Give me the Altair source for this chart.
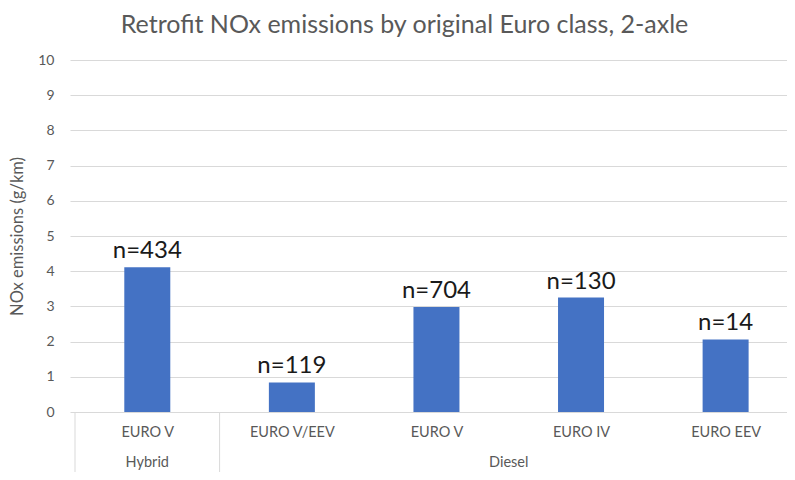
import json
import altair as alt
import pandas as pd

categories = ["EURO V", "EURO V/EEV", "EURO V", "EURO IV", "EURO EEV"]
groups = ["Hybrid", "Diesel", "Diesel", "Diesel", "Diesel"]
nox = [4.11, 0.84, 2.98, 3.25, 2.06]
counts = [434, 119, 704, 130, 14]
y_ticks = list(range(0, 11))

W, H = 717, 352
FONT = "Lato"
GRAY = "#595959"
LIGHT = "#d9d9d9"

df = pd.DataFrame({
    "x": list(range(len(categories))),
    "cat": categories,
    "group": groups,
    "nox": nox,
    "label": [f"n={c}" for c in counts],
})

grp = df.groupby("group", sort=False)["x"].agg(["min", "max"]).reset_index()
grp_df = pd.DataFrame({"x": (grp["min"] + grp["max"]) / 2, "group": grp["group"]})
bounds = sorted(set([m - 0.5 for m in grp["min"]] + [m + 0.5 for m in grp["max"]]))
sep_df = pd.DataFrame({"x": bounds})

label_expr = json.dumps(categories) + "[datum.value]"

x_enc = alt.X(
    "x:Q",
    scale=alt.Scale(domain=[-0.5, 4.39], nice=False, zero=False),
    axis=alt.Axis(
        values=list(range(len(categories))),
        tickCount=len(categories) + 2,
        labelExpr=label_expr,
        grid=False, ticks=False, domain=False,
        labelPadding=13, labelFont=FONT, labelFontSize=14.5,
        labelColor=GRAY, title=None,
    ),
)

y_enc = alt.Y(
    "nox:Q",
    scale=alt.Scale(domain=[0, 10], nice=False),
    axis=alt.Axis(
        values=y_ticks, tickCount=len(y_ticks) + 1, labelOverlap=False,
        grid=True, gridColor=LIGHT, ticks=False, domain=False,
        labelFont=FONT, labelFontSize=14, labelColor=GRAY, labelPadding=16,
        title="NOx emissions (g/km)", titleFont=FONT, titleFontSize=16.5,
        titleFontWeight="normal", titleColor=GRAY, titlePadding=12,
    ),
)

bars = alt.Chart(df).mark_bar(color="#4472C4", size=46).encode(x=x_enc, y=y_enc)

bar_labels = alt.Chart(df).mark_text(
    baseline="bottom", dy=-4, font=FONT, fontSize=24, color="#1a1a1a"
).encode(x=x_enc, y=y_enc, text="label:N")

seps = alt.Chart(sep_df).mark_rule(color=LIGHT, strokeWidth=1).encode(
    x=x_enc, y=alt.value(H), y2=alt.value(H + 62)
)

grp_labels = alt.Chart(grp_df).mark_text(
    baseline="middle", font=FONT, fontSize=14.5, color=GRAY
).encode(x=x_enc, y=alt.value(H + 51), text="group:N")

chart = alt.layer(bars, bar_labels, seps, grp_labels).properties(
    width=W,
    height=H,
    autosize=alt.AutoSizeParams(type="none"),
    padding={"left": 62, "top": 52, "right": 0, "bottom": 60},
    title=alt.Title(
        "Retrofit NOx emissions by original Euro class, 2-axle",
        font=FONT, fontSize=25, fontWeight="normal", color=GRAY,
        anchor="middle", offset=15, dx=-24,
    ),
).configure_view(stroke=None)

chart.save("out.html", embed_options={"renderer": "svg", "actions": False})
